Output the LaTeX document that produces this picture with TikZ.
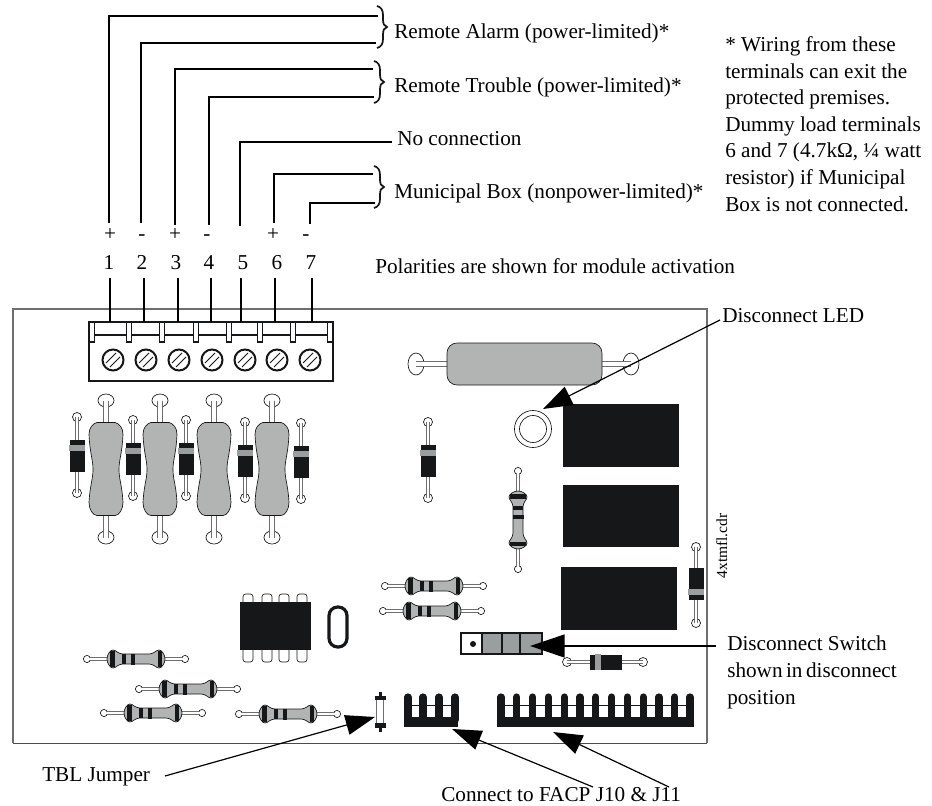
\documentclass[tikz,border=0pt]{standalone}
\usepackage{fontspec}
\setmainfont{Liberation Serif}
\usetikzlibrary{arrows.meta}
\definecolor{ink}{HTML}{161718}
\definecolor{bodygrey}{HTML}{B1B4B3}
\definecolor{swgrey}{HTML}{9A9E9E}
\definecolor{edge}{HTML}{6E6E6E}
\newcommand{\pcbdiode}[3]{%
  \begin{scope}[shift={(#1,#2)},rotate=#3]
    \draw[thin line,fill=white] (0,-39) circle (4.5);
    \draw[thin line,fill=white] (0,37) circle (4.5);
    \draw[edge,line width=3.6pt] (0,-39) -- (0,37);
    \draw[white,line width=2.2pt] (0,-39) -- (0,37);
    \fill[ink] (-7.5,-16) rectangle (7.5,16);
    \fill[swgrey] (-8,-11) rectangle (8,-5);
  \end{scope}}
\newcommand{\pcbres}[3]{%
  \begin{scope}[shift={(#1,#2)},rotate=#3]
    \draw[thin line,fill=white] (-49,0) circle (3.6);
    \draw[thin line,fill=white] (49,0) circle (3.6);
    \draw[edge,line width=3pt] (-47,0) -- (47,0);
    \draw[white,line width=1.5pt] (-47,0) -- (47,0);
    \draw[thin line,fill=bodygrey] (-29,0) .. controls (-29,-4) and (-26,-9) .. (-23,-9)
      .. controls (-20,-9) and (-18,-5) .. (-13,-5) -- (13,-5)
      .. controls (18,-5) and (20,-9) .. (23,-9) .. controls (26,-9) and (29,-4) .. (29,0)
      .. controls (29,4) and (26,9) .. (23,9) .. controls (20,9) and (18,5) .. (13,5) -- (-13,5)
      .. controls (-18,5) and (-20,9) .. (-23,9) .. controls (-26,9) and (-29,4) .. (-29,0) -- cycle;
    \fill[ink] (-26,-8) rectangle (-21,8);
    \fill[ink] (-14,-5) rectangle (-10,5);
    \fill[ink] (-5,-5.5) rectangle (-1,5.5);
    \fill[ink] (22,-8) rectangle (26,8);
  \end{scope}}
\newcommand{\pcbbig}[2]{%
  \begin{scope}[shift={(#1,#2)}]
    \draw[thin line,fill=white] (0,-69) circle (8 and 6.5);
    \draw[thin line,fill=white] (0,68) circle (8 and 6.5);
    \draw[edge,line width=5pt] (0,-69) -- (0,68);
    \draw[white,line width=3.4pt] (0,-69) -- (0,68);
    \draw[thin line,fill=bodygrey] (-9,-47) -- (9,-47) .. controls (13,-46) and (17,-42) .. (17,-35)
      .. controls (16,-15) and (13,-10) .. (13,0) .. controls (13,10) and (16,15) .. (17,33)
      .. controls (17,40) and (13,46) .. (9,46) -- (-9,46)
      .. controls (-13,46) and (-17,40) .. (-17,33) .. controls (-16,15) and (-13,10) .. (-13,0)
      .. controls (-13,-10) and (-16,-15) .. (-17,-35) .. controls (-17,-42) and (-13,-46) .. (-9,-47) -- cycle;
  \end{scope}}
\newcommand{\pcbbrace}[2]{%
  \begin{scope}[shift={(#1,#2)}]
  \draw[line width=1.3pt,ink] (0,-21) .. controls (4,-20) and (6,-17) .. (6,-12)
    -- (6,-8) .. controls (6,-3) and (7,-1) .. (10,0) .. controls (7,1) and (6,3) .. (6,8)
    -- (6,12) .. controls (6,17) and (4,20) .. (0,21);
  \end{scope}}
\newcommand{\pcbheader}[4]{%
  \fill[ink] (#1,717) rectangle (#2,727);
  \draw[ink,line width=.5pt] (#1,705) -- (#2,705);
  \foreach \t in {#4} {\draw[ink,line width=5.4pt,line cap=round] (\t,697) -- (\t,720);}}
\tikzset{
  thin line/.style={draw=ink,line width=.5pt},
  wire/.style={draw=black,line width=1.5pt},
  lead/.style={draw=black,line width=.9pt,-{Triangle[length=22pt,width=15pt]}},
  lbl/.style={anchor=base west,inner sep=0pt,font=\fontsize{15.9}{19}\selectfont},
  term/.style={draw=ink,line width=1.3pt,fill=white},
}
\begin{document}
\begin{tikzpicture}[x=.75pt,y=-.75pt]
\useasboundingbox (0,0) rectangle (932,806);
% board
\draw[edge,line width=1pt] (13,743) -- (13,309) -- (707,309) -- (707,743);
\draw[black!70,line width=1pt] (13,743.5) -- (707,743.5);
% wires
\foreach \n/\x/\ytop/\xe/\yb in {1/109/16/378/223,2/141/43/376/223,3/175/69/373/225,4/209/97/374/225,5/240/142/392/226,6/274/174/373/223,7/310/203/375/224}{
  \coordinate (w\n a) at (\x,\yb);
  \coordinate (w\n b) at (\xe,\ytop);
  \draw[wire] (w\n a) |- (w\n b);
}
\pcbbrace{377}{27}
\pcbbrace{374}{82}
\pcbbrace{374}{187}
% polarity and numbers
\foreach \n/\x/\s in {a/110/+,b/142/-,c/175/+,d/207/-,f/273/+,g/306/-}{
  \node[lbl,anchor=base] (pol\n) at (\x,240) {\s};
}
\foreach \n/\x in {1/109,2/142,3/176,4/209,5/243,6/277,7/311}{
  \node[lbl,anchor=base] (num\n) at (\x,269) {\n};
}
% terminal block
\draw[term,line width=1.5pt] (89,322) rectangle (333,381);
\draw[ink,line width=1.3pt] (89,335) -- (333,335);
\foreach \n/\x in {1/110,2/144,3/178,4/211,5/241,6/275,7/312}{
  \coordinate (s\n a) at (\x,278);
  \coordinate (s\n b) at (\x,322);
  \draw[wire] (s\n a) -- (s\n b);
}
\foreach \x in {92,129,162,196,229,260,293,330}{
  \draw[term] (\x-2.5,322) rectangle (\x+2.5,342);
}
\foreach \x in {113,146,179,212,245,277,310}{
  \draw[ink,line width=1.5pt,fill=white] (\x,360) circle (10.5);
  \draw[ink,line width=.7pt] (\x-7,360+3) -- (\x+3,360-7);
  \draw[ink,line width=.7pt] (\x-3,360+7) -- (\x+7,360-3);
}
% large resistors and diodes
\foreach \x in {106,160,214,272}{\pcbbig{\x}{469.5}}
\pcbdiode{77}{456}{0}
\pcbdiode{133}{459}{0}
\pcbdiode{186}{459}{0}
\pcbdiode{245}{461}{0}
\pcbdiode{301}{462}{0}
\pcbdiode{428}{461}{0}
\pcbdiode{696}{584}{180}
\pcbdiode{606}{662}{90}
% small resistors
\pcbres{136}{659}{0}
\pcbres{188}{689}{0}
\pcbres{153}{713}{0}
\pcbres{288}{714}{0}
\pcbres{434}{586}{0}
\pcbres{432}{611}{0}
\pcbres{518}{520}{-90}
% top tube
\draw[thin line,fill=white] (416,364) circle (8 and 11);
\draw[thin line,fill=white] (631,364) circle (8 and 11);
\draw[edge,line width=5pt] (416,364) -- (631,364);
\draw[white,line width=3.4pt] (416,364) -- (631,364);
\draw[thin line,fill=bodygrey,rounded corners=7.5pt] (447,343) rectangle (602,385);
% LED
\draw[thin line,fill=white] (533,429) circle (18.5);
\draw[thin line] (533,429) circle (13.5);
% relays
\fill[ink] (563,404) rectangle (679,467);
\fill[ink] (563,485) rectangle (679,547);
\fill[ink] (561,567) rectangle (677,630);
% IC
\foreach \x in {248,267,284,302}{
  \draw[thin line,fill=white,rounded corners=2pt] (\x-5,594) rectangle (\x+5,662);
}
\fill[ink] (240,602) rectangle (311,650);
\draw[ink,line width=2.4pt,rounded corners=6.5pt] (329,607) rectangle (347,647);
% switch
\draw[ink,line width=1.2pt,fill=swgrey] (461,633) rectangle (542,654);
\draw[ink,line width=1.2pt,fill=white] (461,633) rectangle (482,654);
\draw[ink,line width=1.2pt] (502,633) -- (502,654) (520,633) -- (520,654);
\fill[ink] (473,644) circle (3);
% jumper
\draw[edge,line width=.5pt,fill=white] (376.5,698) rectangle (383.5,725);
\fill[ink] (375,696) rectangle (386,700);
\fill[ink] (375,723) rectangle (386,728);
\fill[ink] (378.5,692) rectangle (381.5,698);
\fill[ink] (378.5,726) rectangle (381.5,732);
% headers
\pcbheader{404}{458}{408}{408,423,439,455}
\pcbheader{497}{694}{501}{501,516.8,532.6,548.4,564.2,580,595.8,611.6,627.4,643.2,659,674.8,690}
% text
\node[lbl] (alarm) at (394,39) {Remote Alarm (power-limited)*};
\node[lbl] (trouble) at (394,93) {Remote Trouble (power-limited)*};
\node[lbl] (noconn) at (397,146) {No connection};
\node[lbl] (muni) at (394,199) {Municipal Box (nonpower-limited)*};
\node[lbl] (pol) at (375,273) {Polarities are shown for module activation};
\foreach \n/\y/\t in {a/52/{* Wiring from these},b/79/{terminals can exit the},c/105/{protected premises.},d/132/{Dummy load terminals},e/158/{6 and 7 (4.7kΩ, ¼ watt},f/185/{resistor) if Municipal},g/212/{Box is not connected.}}{
  \node[lbl] (note\n) at (725,\y) {\t};
}
\node[lbl] (dled) at (722,322) {Disconnect LED};
\node[lbl] (dsw1) at (727,650) {Disconnect Switch};
\node[lbl] (dsw2) at (727,677) {shown\hspace{2.6pt}in\hspace{2.6pt}disconnect};
\node[lbl] (dsw3) at (727,704) {position};
\node[lbl] (tbl) at (42,781) {TBL Jumper};
\node[lbl] (facp) at (441,801) {Connect to FACP J10 \& J11};
\node[anchor=base,inner sep=0pt,rotate=90,font=\fontsize{11.6}{13}\selectfont] (cdr) at (727,546) {4xtmfl.cdr};
% arrows
\coordinate (a1s) at (720,320); \coordinate (a1t) at (543,409);
\coordinate (a2s) at (716,646); \coordinate (a2t) at (530,646);
\coordinate (a3s) at (165,776); \coordinate (a3t) at (375,717);
\coordinate (a4s) at (593,787); \coordinate (a4t) at (452,729);
\coordinate (a5s) at (669,787); \coordinate (a5t) at (553,732);
\draw[lead] (a1s) -- (a1t);
\draw[draw=black,line width=1.9pt,-{Triangle[length=26pt,width=17pt]}] (a2s) -- (a2t);
\draw[lead] (a3s) -- (a3t);
\draw[lead] (a4s) -- (a4t);
\draw[lead] (a5s) -- (a5t);
\end{tikzpicture}
\end{document}
